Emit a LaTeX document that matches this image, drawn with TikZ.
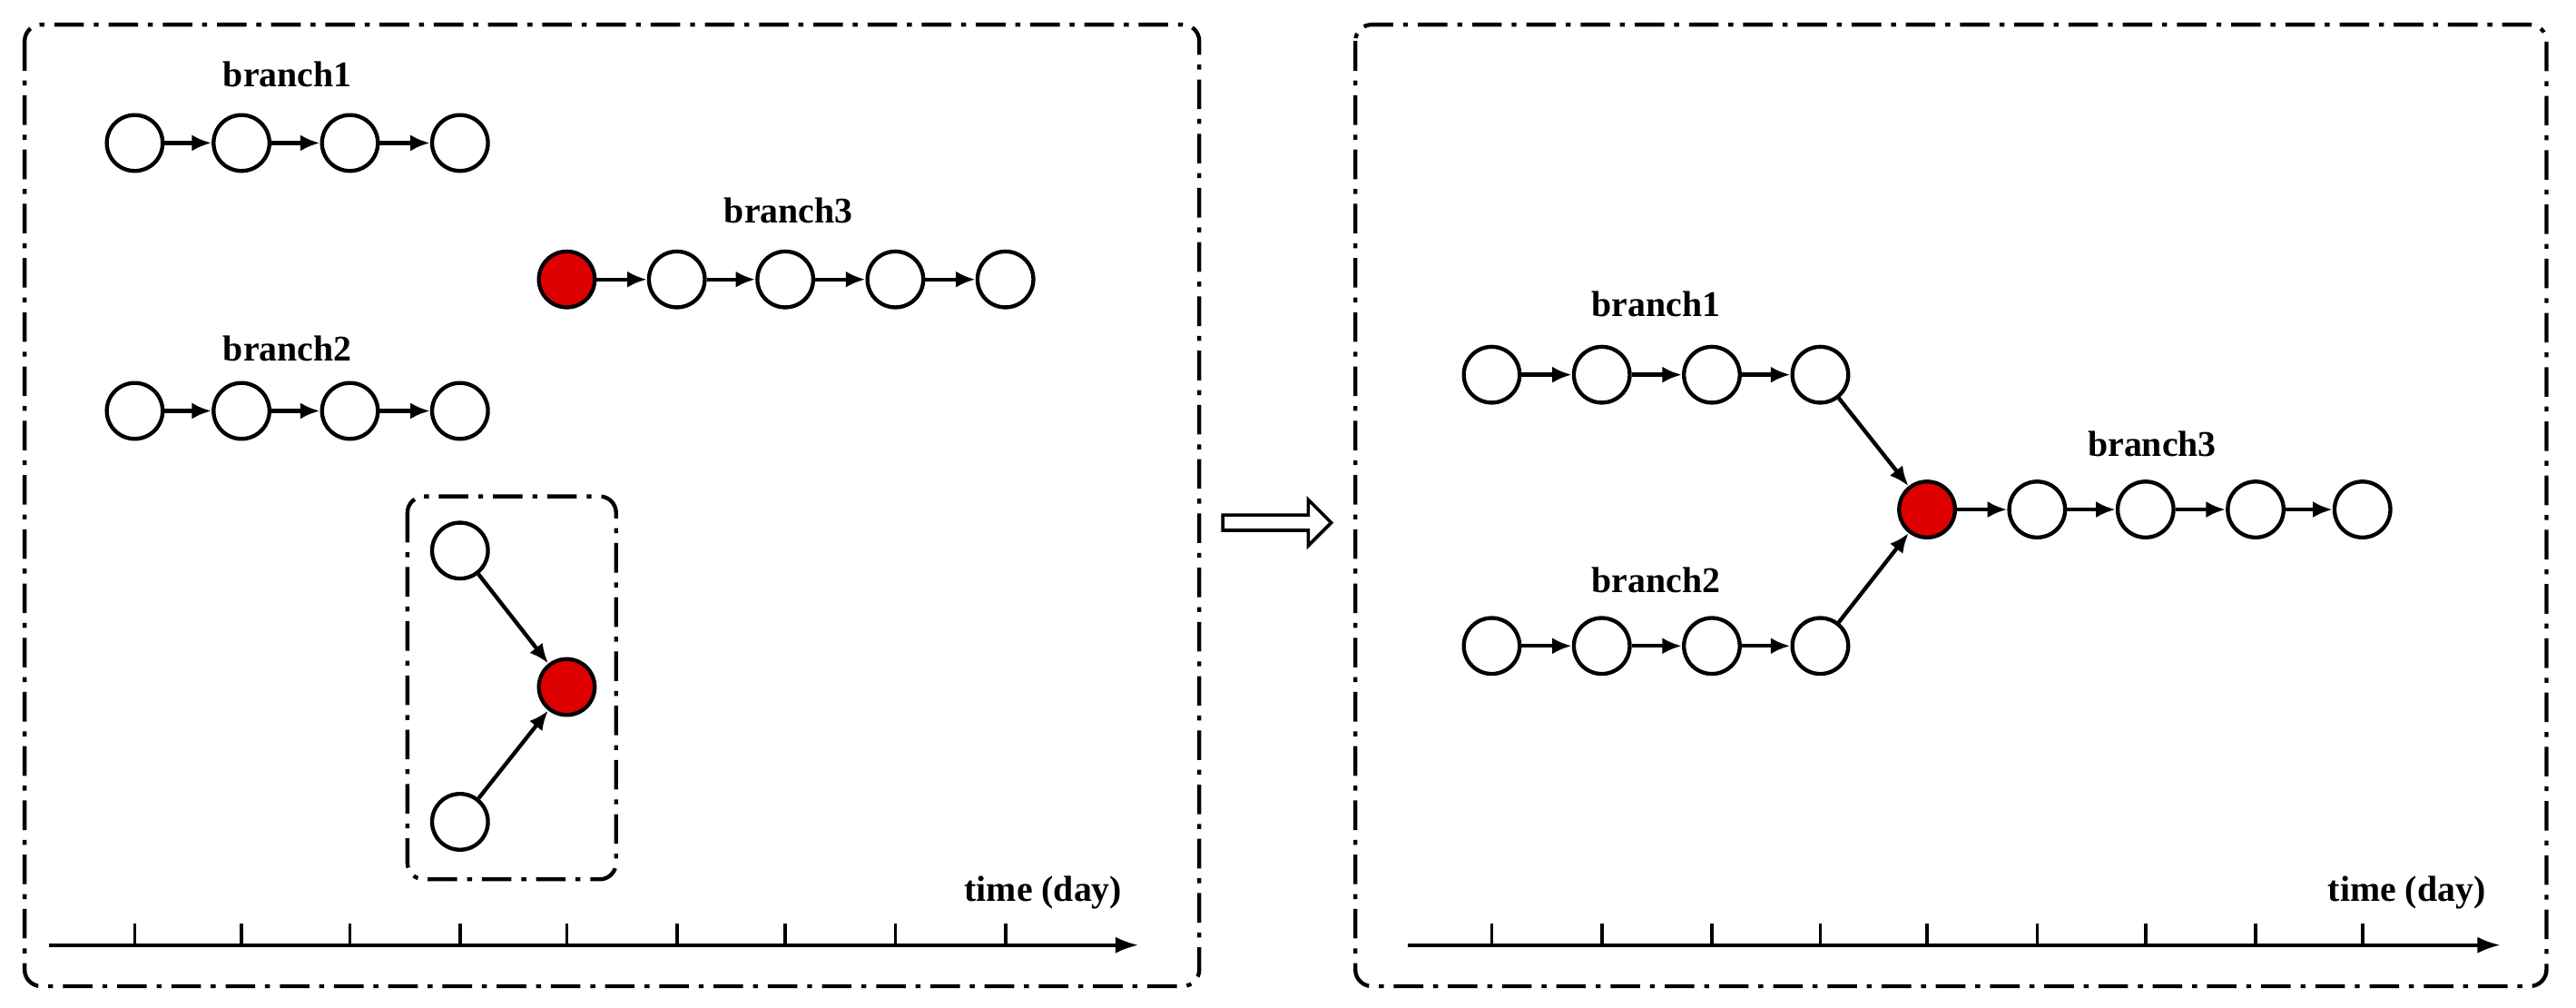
\documentclass[tikz,border=0pt]{standalone}
\usepackage{fontspec}
\setmainfont{Liberation Serif}
\usetikzlibrary{arrows.meta,shapes.arrows}
\definecolor{nred}{RGB}{222,0,0}
\begin{document}
\begin{tikzpicture}[x=0.5pt,y=-0.5pt,
 n/.style={circle,draw,line width=1.2pt,minimum size=17pt,inner sep=0pt,fill=white},
 r/.style={n,fill=nred},
 e/.style={-{Latex[length=6pt,width=5pt]},line width=1.2pt},
 fr/.style={line width=1.2pt,dash pattern=on 9pt off 3pt on 1.5pt off 3pt,rounded corners=5pt},
 lb/.style={font=\bfseries\fontsize{11}{13}\selectfont},
 ax/.style={-{Latex[length=7pt,width=5pt]},line width=1pt}]
\useasboundingbox (0,0) rectangle (1568,613);
\draw[fr] (15,15) rectangle (730,600);
\draw[fr] (825,15) rectangle (1550,600);
\draw[fr] (248,302) rectangle (375,535);
% left
\foreach \x [count=\i] in {82,147,213,280}{\node[n] (a\i) at (\x,87) {}; \node[n] (b\i) at (\x,250) {};}
\foreach \i/\j in {1/2,2/3,3/4}{\draw[e] (a\i)--(a\j); \draw[e] (b\i)--(b\j);}
\node[r] (c1) at (345,170) {};
\foreach \x [count=\i from 2] in {412,478,545,612}{\node[n] (c\i) at (\x,170) {};}
\foreach \i/\j in {1/2,2/3,3/4,4/5}{\draw[e] (c\i)--(c\j);}
\node[lb] (l1) at (175,45) {branch1};
\node[lb] (l2) at (175,212) {branch2};
\node[lb] (l3) at (480,128) {branch3};
\node[n] (m1) at (280,335) {};
\node[r] (m2) at (345,418) {};
\node[n] (m3) at (280,500) {};
\draw[e] (m1)--(m2); \draw[e] (m3)--(m2);
\coordinate (x0) at (30,575); \coordinate (x1) at (693,575);
\draw[ax] (x0)--(x1);
\foreach \x in {82,147,213,280,345,412,478,545,612}{\draw[line width=1pt] (\x,562)--(\x,575);}
\node[lb] (t1) at (635,543) {time (day)};
% arrow
\node[single arrow,draw,line width=1pt,minimum height=33pt,minimum width=14pt,single arrow head extend=3pt,inner sep=1pt] (ar) at (775,318) {};
% right
\foreach \x [count=\i] in {908,975,1042,1108}{\node[n] (p\i) at (\x,228) {}; \node[n] (q\i) at (\x,393) {};}
\foreach \i/\j in {1/2,2/3,3/4}{\draw[e] (p\i)--(p\j); \draw[e] (q\i)--(q\j);}
\node[r] (s1) at (1173,310) {};
\foreach \x [count=\i from 2] in {1240,1306,1373,1438}{\node[n] (s\i) at (\x,310) {};}
\foreach \i/\j in {1/2,2/3,3/4,4/5}{\draw[e] (s\i)--(s\j);}
\draw[e] (p4)--(s1); \draw[e] (q4)--(s1);
\node[lb] (k1) at (1008,185) {branch1};
\node[lb] (k2) at (1008,353) {branch2};
\node[lb] (k3) at (1310,270) {branch3};
\coordinate (y0) at (857,575); \coordinate (y1) at (1522,575);
\draw[ax] (y0)--(y1);
\foreach \x in {908,975,1042,1108,1173,1240,1306,1373,1438}{\draw[line width=1pt] (\x,562)--(\x,575);}
\node[lb] (t2) at (1465,543) {time (day)};
\end{tikzpicture}
\end{document}
